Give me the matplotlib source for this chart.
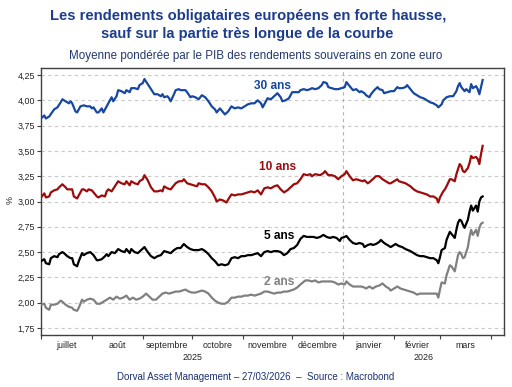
import matplotlib
matplotlib.use('Agg')
import matplotlib.pyplot as plt
import matplotlib.transforms as mtransforms
import pandas as pd

plt.rcParams['font.family'] = ['Liberation Sans', 'DejaVu Sans']

# ---------------- data ----------------
dates_30 = ["2025-07-01","2025-07-03","2025-07-04","2025-07-06","2025-07-09","2025-07-11","2025-07-13","2025-07-14",
            "2025-07-16","2025-07-18","2025-07-19","2025-07-20","2025-07-22","2025-07-23","2025-07-25","2025-07-27",
            "2025-07-29","2025-07-31","2025-08-01","2025-08-02","2025-08-04","2025-08-05","2025-08-07","2025-08-08",
            "2025-08-10","2025-08-11","2025-08-13","2025-08-14","2025-08-16","2025-08-17","2025-08-19","2025-08-21",
            "2025-08-22","2025-08-24","2025-08-25","2025-08-27","2025-08-29","2025-08-30","2025-09-01","2025-09-02",
            "2025-09-04","2025-09-06","2025-09-08","2025-09-10","2025-09-12","2025-09-13","2025-09-14","2025-09-16",
            "2025-09-17","2025-09-18","2025-09-20","2025-09-21","2025-09-23","2025-09-24","2025-09-27","2025-09-28",
            "2025-09-30","2025-10-01","2025-10-03","2025-10-05","2025-10-07","2025-10-09","2025-10-11","2025-10-13",
            "2025-10-15","2025-10-16","2025-10-18","2025-10-19","2025-10-21","2025-10-23","2025-10-25","2025-10-27",
            "2025-10-29","2025-10-31","2025-11-02","2025-11-04","2025-11-06","2025-11-08","2025-11-10","2025-11-12",
            "2025-11-13","2025-11-15","2025-11-16","2025-11-18","2025-11-20","2025-11-22","2025-11-24","2025-11-25",
            "2025-11-27","2025-11-29","2025-12-01","2025-12-03","2025-12-05","2025-12-06","2025-12-08","2025-12-10",
            "2025-12-12","2025-12-13","2025-12-15","2025-12-17","2025-12-19","2025-12-20","2025-12-22","2025-12-23",
            "2025-12-25","2025-12-27","2025-12-29","2025-12-31","2026-01-02","2026-01-03","2026-01-05","2026-01-07",
            "2026-01-09","2026-01-11","2026-01-12","2026-01-14","2026-01-15","2026-01-17","2026-01-18","2026-01-20",
            "2026-01-22","2026-01-23","2026-01-25","2026-01-26","2026-01-28","2026-01-30","2026-02-01","2026-02-03",
            "2026-02-04","2026-02-06","2026-02-08","2026-02-09","2026-02-11","2026-02-13","2026-02-15","2026-02-17",
            "2026-02-19","2026-02-21","2026-02-23","2026-02-25","2026-02-27","2026-02-28","2026-03-02","2026-03-03",
            "2026-03-05","2026-03-07","2026-03-09","2026-03-11","2026-03-12","2026-03-13","2026-03-14","2026-03-16",
            "2026-03-17","2026-03-19","2026-03-20","2026-03-21","2026-03-23","2026-03-24","2026-03-25","2026-03-26",
            "2026-03-27"]
ans_30 = [3.82,3.85,3.82,3.84,3.91,3.93,3.98,4.01,
          3.99,3.97,3.99,3.97,3.89,3.88,3.94,3.95,
          3.94,3.94,3.92,3.93,3.88,3.88,3.92,3.88,
          3.94,3.97,4.03,3.99,4.04,4.10,4.09,4.07,
          4.10,4.08,4.12,4.12,4.11,4.15,4.17,4.21,
          4.16,4.11,4.06,4.06,4.04,4.06,4.03,4.04,
          4.02,3.99,4.06,4.10,4.11,4.10,4.10,4.08,
          4.03,4.04,4.03,4.01,4.05,4.03,3.99,3.94,
          3.91,3.88,3.92,3.90,3.86,3.89,3.94,3.92,
          3.93,3.92,3.94,3.96,3.97,3.97,4.00,3.97,
          3.93,3.99,4.02,4.01,4.04,4.07,4.03,3.99,
          4.00,4.02,4.08,4.08,4.08,4.10,4.11,4.10,
          4.11,4.12,4.11,4.12,4.15,4.18,4.17,4.13,
          4.12,4.11,4.11,4.12,4.13,4.18,4.14,4.10,
          4.11,4.08,4.09,4.07,4.05,4.03,4.06,4.10,
          4.13,4.11,4.10,4.07,4.08,4.09,4.09,4.13,
          4.12,4.12,4.13,4.15,4.11,4.07,4.05,4.03,
          4.02,4.00,3.98,3.97,3.95,3.93,3.96,4.00,
          4.03,4.04,4.04,4.09,4.14,4.17,4.13,4.09,
          4.11,4.08,4.16,4.12,4.14,4.11,4.06,4.13,
          4.20]

dates_10 = ["2025-07-01","2025-07-03","2025-07-04","2025-07-06","2025-07-07","2025-07-09","2025-07-11","2025-07-12",
            "2025-07-14","2025-07-16","2025-07-17","2025-07-19","2025-07-20","2025-07-21","2025-07-23","2025-07-24",
            "2025-07-26","2025-07-27","2025-07-29","2025-07-30","2025-08-01","2025-08-02","2025-08-04","2025-08-05",
            "2025-08-07","2025-08-09","2025-08-10","2025-08-11","2025-08-13","2025-08-15","2025-08-17","2025-08-19",
            "2025-08-21","2025-08-22","2025-08-24","2025-08-25","2025-08-27","2025-08-29","2025-08-30","2025-09-01",
            "2025-09-02","2025-09-04","2025-09-06","2025-09-08","2025-09-10","2025-09-12","2025-09-13","2025-09-14",
            "2025-09-16","2025-09-18","2025-09-19","2025-09-21","2025-09-23","2025-09-25","2025-09-26","2025-09-28",
            "2025-09-30","2025-10-02","2025-10-04","2025-10-05","2025-10-07","2025-10-09","2025-10-11","2025-10-13",
            "2025-10-15","2025-10-16","2025-10-18","2025-10-20","2025-10-22","2025-10-23","2025-10-25","2025-10-27",
            "2025-10-29","2025-10-31","2025-11-02","2025-11-04","2025-11-06","2025-11-08","2025-11-10","2025-11-12",
            "2025-11-14","2025-11-16","2025-11-18","2025-11-20","2025-11-22","2025-11-24","2025-11-26","2025-11-28",
            "2025-11-30","2025-12-02","2025-12-04","2025-12-06","2025-12-08","2025-12-10","2025-12-12","2025-12-13",
            "2025-12-15","2025-12-18","2025-12-20","2025-12-21","2025-12-23","2025-12-25","2025-12-27","2025-12-29",
            "2025-12-31","2026-01-02","2026-01-03","2026-01-05","2026-01-07","2026-01-09","2026-01-11","2026-01-13",
            "2026-01-14","2026-01-16","2026-01-17","2026-01-19","2026-01-21","2026-01-23","2026-01-25","2026-01-27",
            "2026-01-29","2026-01-30","2026-02-01","2026-02-03","2026-02-04","2026-02-06","2026-02-08","2026-02-11",
            "2026-02-13","2026-02-15","2026-02-17","2026-02-19","2026-02-21","2026-02-23","2026-02-25","2026-02-27",
            "2026-02-28","2026-03-01","2026-03-03","2026-03-04","2026-03-05","2026-03-07","2026-03-08","2026-03-10",
            "2026-03-11","2026-03-12","2026-03-13","2026-03-14","2026-03-15","2026-03-16","2026-03-18","2026-03-19",
            "2026-03-20","2026-03-21","2026-03-23","2026-03-24","2026-03-25","2026-03-26","2026-03-27"]
ans_10 = [3.04,3.08,3.04,3.05,3.09,3.11,3.12,3.14,
          3.17,3.14,3.12,3.12,3.12,3.05,3.03,3.06,
          3.12,3.12,3.10,3.12,3.11,3.09,3.05,3.04,
          3.06,3.05,3.10,3.12,3.10,3.15,3.20,3.18,
          3.17,3.20,3.16,3.20,3.18,3.17,3.20,3.22,
          3.26,3.21,3.14,3.10,3.10,3.11,3.10,3.15,
          3.13,3.12,3.14,3.18,3.20,3.20,3.22,3.18,
          3.17,3.16,3.15,3.18,3.17,3.17,3.14,3.10,
          3.04,3.00,3.02,3.01,2.99,3.02,3.07,3.06,
          3.07,3.07,3.08,3.09,3.10,3.09,3.11,3.07,
          3.13,3.14,3.13,3.15,3.16,3.12,3.09,3.11,
          3.14,3.17,3.18,3.22,3.27,3.26,3.27,3.25,
          3.27,3.26,3.28,3.30,3.26,3.26,3.25,3.22,
          3.25,3.27,3.30,3.25,3.21,3.22,3.21,3.20,
          3.21,3.18,3.19,3.22,3.25,3.25,3.22,3.20,
          3.18,3.18,3.20,3.22,3.20,3.19,3.18,3.15,
          3.12,3.10,3.09,3.08,3.07,3.05,3.05,3.03,
          2.99,3.04,3.10,3.12,3.15,3.22,3.22,3.20,
          3.27,3.32,3.37,3.35,3.30,3.29,3.33,3.38,
          3.45,3.43,3.44,3.42,3.37,3.47,3.55]

dates_5 = ["2025-07-01","2025-07-03","2025-07-04","2025-07-06","2025-07-07","2025-07-09","2025-07-11","2025-07-12",
           "2025-07-14","2025-07-15","2025-07-17","2025-07-19","2025-07-20","2025-07-21","2025-07-23","2025-07-24",
           "2025-07-26","2025-07-27","2025-07-29","2025-07-31","2025-08-02","2025-08-04","2025-08-05","2025-08-07",
           "2025-08-09","2025-08-10","2025-08-11","2025-08-13","2025-08-15","2025-08-17","2025-08-19","2025-08-21",
           "2025-08-22","2025-08-24","2025-08-25","2025-08-27","2025-08-29","2025-08-31","2025-09-02","2025-09-04",
           "2025-09-06","2025-09-08","2025-09-10","2025-09-12","2025-09-14","2025-09-16","2025-09-18","2025-09-20",
           "2025-09-22","2025-09-24","2025-09-26","2025-09-28","2025-09-30","2025-10-02","2025-10-04","2025-10-05",
           "2025-10-07","2025-10-09","2025-10-11","2025-10-13","2025-10-15","2025-10-17","2025-10-19","2025-10-21",
           "2025-10-23","2025-10-25","2025-10-27","2025-10-29","2025-10-31","2025-11-02","2025-11-04","2025-11-06",
           "2025-11-08","2025-11-10","2025-11-12","2025-11-14","2025-11-16","2025-11-18","2025-11-20","2025-11-22",
           "2025-11-24","2025-11-26","2025-11-28","2025-11-30","2025-12-02","2025-12-04","2025-12-06","2025-12-08",
           "2025-12-10","2025-12-12","2025-12-14","2025-12-16","2025-12-18","2025-12-20","2025-12-22","2025-12-24",
           "2025-12-26","2025-12-28","2025-12-30","2025-12-31","2026-01-02","2026-01-03","2026-01-05","2026-01-07",
           "2026-01-09","2026-01-11","2026-01-13","2026-01-14","2026-01-16","2026-01-18","2026-01-19","2026-01-21",
           "2026-01-23","2026-01-24","2026-01-26","2026-01-28","2026-01-30","2026-01-31","2026-02-02","2026-02-04",
           "2026-02-06","2026-02-08","2026-02-11","2026-02-13","2026-02-15","2026-02-17","2026-02-19","2026-02-21",
           "2026-02-23","2026-02-25","2026-02-27","2026-02-28","2026-03-01","2026-03-02","2026-03-04","2026-03-05",
           "2026-03-07","2026-03-08","2026-03-10","2026-03-11","2026-03-12","2026-03-13","2026-03-14","2026-03-15",
           "2026-03-16","2026-03-18","2026-03-19","2026-03-20","2026-03-21","2026-03-23","2026-03-24","2026-03-25",
           "2026-03-26","2026-03-27"]
ans_5 = [2.41,2.43,2.39,2.38,2.44,2.46,2.45,2.48,
         2.50,2.49,2.46,2.44,2.44,2.38,2.36,2.41,
         2.49,2.47,2.49,2.50,2.47,2.42,2.42,2.43,
         2.46,2.48,2.46,2.50,2.49,2.53,2.51,2.50,
         2.53,2.49,2.53,2.50,2.49,2.52,2.55,2.50,
         2.46,2.44,2.46,2.47,2.51,2.50,2.49,2.52,
         2.54,2.54,2.58,2.55,2.53,2.52,2.52,2.52,
         2.53,2.51,2.48,2.44,2.41,2.37,2.38,2.37,
         2.38,2.44,2.45,2.44,2.46,2.46,2.47,2.47,
         2.48,2.49,2.46,2.50,2.51,2.50,2.51,2.51,
         2.50,2.47,2.49,2.53,2.54,2.57,2.63,2.66,
         2.65,2.65,2.65,2.64,2.65,2.67,2.65,2.64,
         2.65,2.64,2.61,2.64,2.65,2.66,2.62,2.59,
         2.58,2.59,2.58,2.55,2.57,2.58,2.57,2.58,
         2.60,2.62,2.59,2.57,2.55,2.56,2.58,2.56,
         2.55,2.53,2.51,2.49,2.47,2.46,2.46,2.45,
         2.44,2.44,2.42,2.39,2.45,2.52,2.54,2.62,
         2.70,2.68,2.64,2.72,2.79,2.82,2.81,2.77,
         2.74,2.82,2.90,2.96,2.91,2.96,2.90,3.00,
         3.04,3.05]

dates_2 = ["2025-07-01","2025-07-03","2025-07-04","2025-07-06","2025-07-07","2025-07-09","2025-07-11","2025-07-13",
           "2025-07-14","2025-07-16","2025-07-18","2025-07-20","2025-07-21","2025-07-23","2025-07-24","2025-07-26",
           "2025-07-27","2025-07-29","2025-07-31","2025-08-02","2025-08-04","2025-08-06","2025-08-08","2025-08-10",
           "2025-08-12","2025-08-14","2025-08-16","2025-08-18","2025-08-20","2025-08-22","2025-08-24","2025-08-26",
           "2025-08-28","2025-08-30","2025-09-01","2025-09-03","2025-09-05","2025-09-07","2025-09-09","2025-09-11",
           "2025-09-13","2025-09-15","2025-09-17","2025-09-19","2025-09-21","2025-09-23","2025-09-25","2025-09-27",
           "2025-09-29","2025-10-01","2025-10-03","2025-10-05","2025-10-07","2025-10-09","2025-10-11","2025-10-13",
           "2025-10-15","2025-10-17","2025-10-19","2025-10-21","2025-10-23","2025-10-25","2025-10-27","2025-10-29",
           "2025-10-31","2025-11-02","2025-11-04","2025-11-06","2025-11-08","2025-11-10","2025-11-12","2025-11-14",
           "2025-11-16","2025-11-18","2025-11-20","2025-11-22","2025-11-24","2025-11-26","2025-11-28","2025-11-30",
           "2025-12-02","2025-12-04","2025-12-06","2025-12-09","2025-12-11","2025-12-13","2025-12-15","2025-12-17",
           "2025-12-19","2025-12-21","2025-12-23","2025-12-25","2025-12-27","2025-12-29","2025-12-31","2026-01-02",
           "2026-01-03","2026-01-05","2026-01-07","2026-01-09","2026-01-12","2026-01-14","2026-01-15","2026-01-17",
           "2026-01-19","2026-01-21","2026-01-23","2026-01-25","2026-01-27","2026-01-29","2026-01-30","2026-02-01",
           "2026-02-03","2026-02-05","2026-02-07","2026-02-09","2026-02-11","2026-02-13","2026-02-15","2026-02-17",
           "2026-02-19","2026-02-21","2026-02-23","2026-02-25","2026-02-27","2026-02-28","2026-03-01","2026-03-02",
           "2026-03-04","2026-03-05","2026-03-07","2026-03-08","2026-03-10","2026-03-11","2026-03-12","2026-03-13",
           "2026-03-14","2026-03-15","2026-03-16","2026-03-18","2026-03-19","2026-03-20","2026-03-21","2026-03-23",
           "2026-03-24","2026-03-25","2026-03-26","2026-03-27"]
ans_2 = [1.98,1.99,1.95,1.93,1.98,1.98,1.99,2.02,
         2.01,1.98,1.96,1.95,1.93,1.92,1.95,2.03,
         2.01,2.03,2.04,2.03,1.99,1.99,2.01,2.03,
         2.05,2.03,2.06,2.04,2.05,2.07,2.03,2.05,
         2.03,2.04,2.06,2.09,2.06,2.03,2.03,2.06,
         2.09,2.10,2.09,2.10,2.11,2.11,2.12,2.13,
         2.11,2.10,2.10,2.11,2.12,2.11,2.09,2.05,
         2.02,2.00,1.99,1.99,2.01,2.05,2.05,2.06,
         2.06,2.07,2.07,2.08,2.07,2.08,2.09,2.11,
         2.11,2.10,2.09,2.10,2.10,2.11,2.11,2.12,
         2.13,2.15,2.18,2.22,2.22,2.21,2.22,2.20,
         2.21,2.21,2.21,2.21,2.20,2.18,2.19,2.18,
         2.21,2.18,2.16,2.16,2.16,2.15,2.14,2.16,
         2.14,2.16,2.17,2.19,2.16,2.14,2.12,2.14,
         2.16,2.14,2.13,2.12,2.11,2.10,2.08,2.09,
         2.09,2.09,2.09,2.09,2.09,2.05,2.13,2.20,
         2.19,2.27,2.37,2.36,2.31,2.39,2.47,2.50,
         2.48,2.44,2.45,2.55,2.65,2.72,2.67,2.72,
         2.66,2.74,2.78,2.79]

series_names = ["30 ans", "10 ans", "5 ans", "2 ans"]
series_colors = ["#1747a0", "#9c0c0c", "#000000", "#808080"]
label_dates = ["2025-11-19", "2025-11-22", "2025-11-23", "2025-11-23"]
label_values = [4.14, 3.34, 2.66, 2.20]

y_ticks = [1.75, 2.00, 2.25, 2.50, 2.75, 3.00, 3.25, 3.50, 3.75, 4.00, 4.25]
y_tick_labels = ["1,75", "2,00", "2,25", "2,50", "2,75", "3,00", "3,25", "3,50", "3,75", "4,00", "4,25"]
month_labels = ["juillet", "août", "septembre", "octobre", "novembre", "décembre", "janvier", "février", "mars"]
years = ["2025", "2026"]

title = "Les rendements obligataires européens en forte hausse,\nsauf sur la partie très longue de la courbe"
subtitle = "Moyenne pondérée par le PIB des rendements souverains en zone euro"
footer = "Dorval Asset Management – 27/03/2026  –  Source : Macrobond"

# ---------------- figure ----------------
W, H = 512, 387
fig = plt.figure(figsize=(W / 100, H / 100), dpi=100)
ax = fig.add_axes([41 / W, 1 - 335 / H, (504 - 41) / W, (335 - 68) / H])

all_dates = [dates_30, dates_10, dates_5, dates_2]
all_vals = [ans_30, ans_10, ans_5, ans_2]
for d, v, c in zip(all_dates, all_vals, series_colors):
    ax.plot(pd.to_datetime(d), v, color=c, lw=1.6, solid_joinstyle='round', zorder=3)

for name, c, ld, lv in zip(series_names, series_colors, label_dates, label_values):
    ax.text(pd.Timestamp(ld), lv, name, color=c, fontsize=8.6, fontweight='bold',
            ha='center', va='center', zorder=4)

ax.set_ylim(1.681, 4.319)
ax.set_yticks(y_ticks)
ax.set_yticklabels(y_tick_labels)
ax.yaxis.grid(True, linestyle=(0, (3, 3)), color='#c8c8c8', lw=0.8)
ax.set_axisbelow(True)

month_starts = pd.date_range("2025-07-01", "2026-04-01", freq="MS")
ax.set_xlim(pd.Timestamp("2025-07-01"), pd.Timestamp("2026-04-09"))
ax.set_xticks(month_starts)
ax.set_xticklabels([""] * len(month_starts))
mids = [s + (e - s) / 2 for s, e in zip(month_starts[:-1], month_starts[1:])]
ax.set_xticks(mids, minor=True)
ax.set_xticklabels(month_labels, minor=True)
ax.tick_params(axis='x', which='major', length=3, width=0.8, color='#404040')
ax.tick_params(axis='x', which='minor', length=0, pad=4, labelsize=6.4, labelcolor='#222222')
ax.tick_params(axis='y', length=3, width=0.8, pad=1.5, labelsize=6.4, labelcolor='#222222', color='#404040')

ax.axvline(pd.Timestamp("2026-01-01"), color='#b4b4b4', lw=0.8, linestyle=(0, (3, 3)), zorder=1)

for s in ax.spines.values():
    s.set_color('#404040')
    s.set_linewidth(1.0)

trans = mtransforms.blended_transform_factory(ax.transData, ax.transAxes)
year_centers = [pd.Timestamp("2025-10-01"), pd.Timestamp("2026-02-19")]
for yr, xc in zip(years, year_centers):
    ax.text(xc, -0.083, yr, transform=trans, ha='center', va='center', fontsize=6.4, color='#222222')

fig.text(10 / W, 1 - 200 / H, "%", rotation=90, ha='center', va='center', fontsize=6.4, color='#222222')

title_color = '#1d3c8c'
fig.text(248 / W, 1 - 20 / H, title.split("\n")[0], ha='center', va='baseline',
         fontsize=10.6, fontweight='bold', color=title_color)
fig.text(247 / W, 1 - 38 / H, title.split("\n")[1], ha='center', va='baseline',
         fontsize=10.6, fontweight='bold', color=title_color)
fig.text(256 / W, 1 - 59.5 / H, subtitle, ha='center', va='baseline', fontsize=8.4, color='#24386b')
fig.text(256 / W, 1 - 380.5 / H, footer, ha='center', va='baseline', fontsize=7.0, color='#1d3270')

fig.savefig("out.png", dpi=100)
